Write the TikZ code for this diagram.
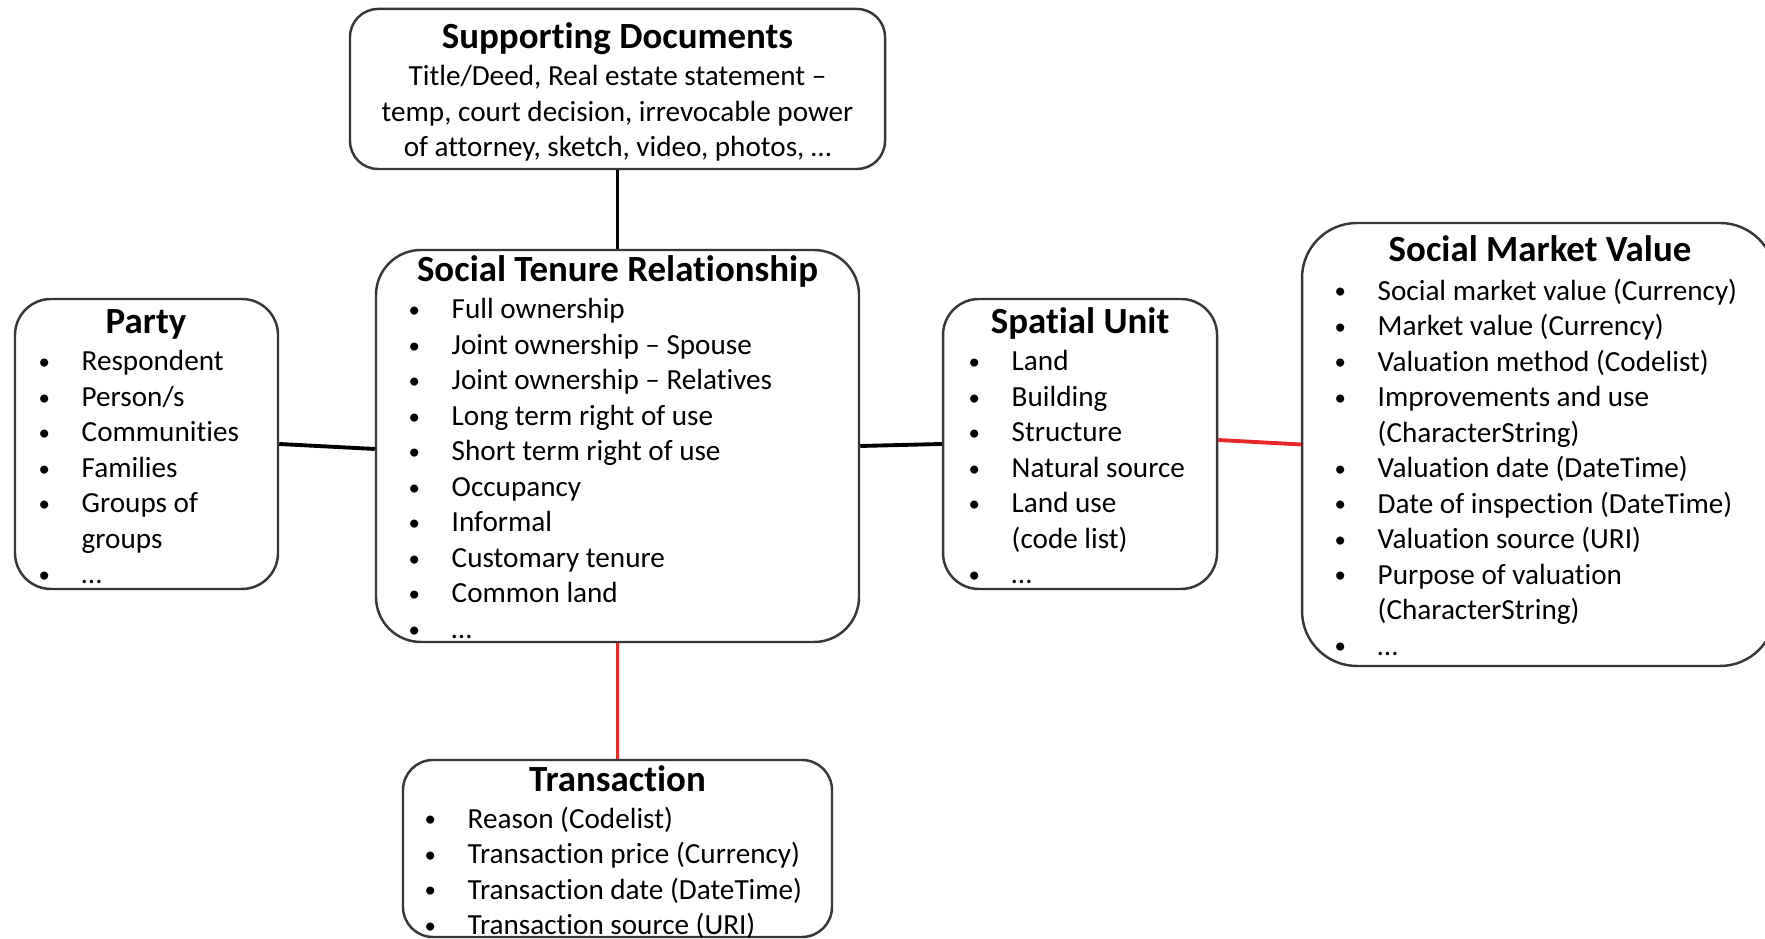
\documentclass[tikz,border=0pt]{standalone}
\usepackage{fontspec}
\setmainfont{Carlito}[Ligatures=NoCommon]
\usetikzlibrary{positioning}
\definecolor{linkred}{RGB}{232,40,40}
\definecolor{boxgray}{RGB}{55,55,55}
\newcommand{\dotmark}{\raisebox{0.35pt}{\fontsize{6.5}{6.5}\selectfont\textbullet}}
\newcommand{\bul}[1]{\makebox[4.3mm][l]{\dotmark}#1}
\newcommand{\cnt}[1]{\makebox[4.3mm][l]{}#1}

\begin{document}
\begin{tikzpicture}[
  box/.style={shape=rectangle, draw=boxgray, line width=0.7pt, inner sep=0pt},
  title/.style={font=\fontsize{10.5}{12.5}\selectfont\bfseries, anchor=base, inner sep=0pt},
  items/.style={font=\fontsize{8.3}{10.1}\selectfont, align=left, anchor=north west, inner sep=0pt},
  link/.style={line width=1.1pt, draw=black},
  redlink/.style={line width=1.1pt, draw=linkred}
]
\useasboundingbox (0,0) rectangle (17.65,9.39);

% boxes
\node[box, rounded corners=0.28cm, minimum width=5.35cm, minimum height=1.60cm] (sd) at (6.175, 8.50) {};
\node[box, rounded corners=0.45cm, minimum width=4.83cm, minimum height=3.92cm] (str) at (6.175, 4.93) {};
\node[box, rounded corners=0.36cm, minimum width=2.63cm, minimum height=2.90cm] (party) at (1.465, 4.95) {};
\node[box, rounded corners=0.36cm, minimum width=2.74cm, minimum height=2.90cm] (su) at (10.80, 4.95) {};
\node[box, rounded corners=0.55cm, minimum width=4.73cm, minimum height=4.43cm] (smv) at (15.385, 4.945) {};
\node[box, rounded corners=0.30cm, minimum width=4.29cm, minimum height=1.77cm] (trans) at (6.175, 0.905) {};

% titles
\node[title] (sd-t) at (6.175, 8.90) {Supporting Documents};
\node[title] (str-t) at (6.175, 6.57) {Social Tenure Relationship};
\node[title] (party-t) at (1.46, 6.05) {Party};
\node[title] (su-t) at (10.80, 6.05) {Spatial Unit};
\node[title] (smv-t) at (15.40, 6.77) {Social Market Value};
\node[title] (trans-t) at (6.175, 1.47) {Transaction};

% contents
\node[items, align=center, anchor=north] (sd-l) at (6.175, 8.74) {Title/Deed, Real estate statement –\\temp, court decision, irrevocable power\\of attorney, sketch, video, photos, …};
\node[items] (str-l) at (4.08, 6.41) {\bul{Full ownership}\\\bul{Joint ownership – Spouse}\\\bul{Joint ownership – Relatives}\\\bul{Long term right of use}\\\bul{Short term right of use}\\\bul{Occupancy}\\\bul{Informal}\\\bul{Customary tenure}\\\bul{Common land}\\\bul{…}};
\node[items] (party-l) at (0.38, 5.89) {\bul{Respondent}\\\bul{Person/s}\\\bul{Communities}\\\bul{Families}\\\bul{Groups of}\\\cnt{groups}\\\bul{…}};
\node[items] (su-l) at (9.68, 5.89) {\bul{Land}\\\bul{Building}\\\bul{Structure}\\\bul{Natural source}\\\bul{Land use}\\\cnt{(code list)}\\\bul{…}};
\node[items] (smv-l) at (13.34, 6.61) {\bul{Social market value (Currency)}\\\bul{Market value (Currency)}\\\bul{Valuation method (Codelist)}\\\bul{Improvements and use}\\\cnt{(CharacterString)}\\\bul{Valuation date (DateTime)}\\\bul{Date of inspection (DateTime)}\\\bul{Valuation source (URI)}\\\bul{Purpose of valuation}\\\cnt{(CharacterString)}\\\bul{…}};
\node[items] (trans-l) at (4.24, 1.33) {\bul{Reason (Codelist)}\\\bul{Transaction price (Currency)}\\\bul{Transaction date (DateTime)}\\\bul{Transaction source (URI)}};

% connectors
\path[link] (sd) edge (str);
\path[link] (party.east) edge ([yshift=-0.03cm]str.west);
\path[link] (str.east) edge (su.west);
\path[redlink] ([yshift=0.04cm]su.east) edge (smv.west);
\path[redlink] (str) edge (trans);
\end{tikzpicture}
\end{document}
